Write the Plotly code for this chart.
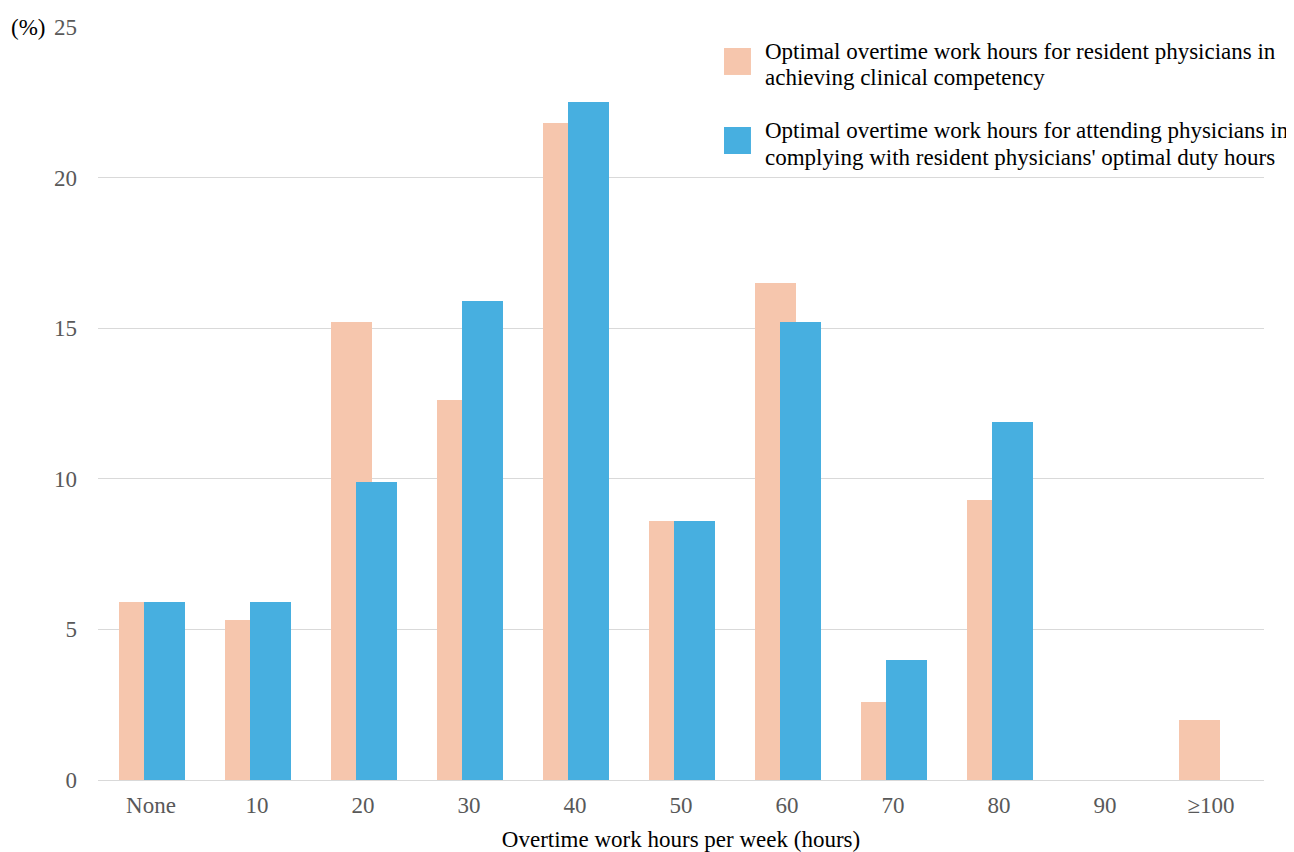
import plotly.graph_objects as go

categories = ["None", "10", "20", "30", "40", "50", "60", "70", "80", "90", "≥100"]
resident = [5.9, 5.3, 15.2, 12.6, 21.8, 8.6, 16.5, 2.6, 9.3, 0, 2.0]
attending = [5.9, 5.9, 9.9, 15.9, 22.5, 8.6, 15.2, 4.0, 11.9, 0, 0]
y_ticks = [0, 5, 10, 15, 20, 25]

legend_res = ["Optimal overtime work hours for resident physicians in",
              "achieving clinical competency"]
legend_att = ["Optimal overtime work hours for attending physicians in",
              "complying with resident physicians' optimal duty hours"]

PEACH = "#F6C6AD"
BLUE = "#47AFE0"
FONT = "Liberation Serif, Times New Roman, serif"
FS = 23

fig = go.Figure()
fig.add_trace(go.Bar(x=categories, y=resident, name=" ".join(legend_res), marker_color=PEACH,
                     marker_line_width=0, width=0.385, offset=-0.30, showlegend=False))
fig.add_trace(go.Bar(x=categories, y=attending, name=" ".join(legend_att), marker_color=BLUE,
                     marker_line_width=0, width=0.385, offset=-0.068, showlegend=False))

fig.update_layout(
    barmode="overlay",
    width=1286, height=844,
    margin=dict(l=90, r=30, t=19, b=72, autoexpand=False),
    plot_bgcolor="white", paper_bgcolor="white",
    font=dict(family=FONT, size=FS, color="#000000"),
    xaxis=dict(type="category", showgrid=False, showline=True, linecolor="#d9d9d9",
               linewidth=1, ticks="", tickfont=dict(family=FONT, size=FS, color="#595959"),
               ticklabelstandoff=4, automargin=False,
               title=dict(text="Overtime work hours per week (hours)",
                          font=dict(family=FONT, size=FS, color="#000000"), standoff=16)),
    yaxis=dict(range=[0, 25], tickvals=y_ticks, showgrid=True, gridcolor="#d9d9d9",
               gridwidth=1, zeroline=False, showline=False, ticks="", automargin=False,
               tickfont=dict(family=FONT, size=FS, color="#595959"), ticklabelstandoff=20),
    bargap=0,
)
fig.add_annotation(text="(%)", xref="paper", yref="y", x=-0.0437, y=25, xanchor="right",
                   yanchor="middle", showarrow=False,
                   font=dict(family=FONT, size=FS, color="#000000"))

# manual legend (large swatches like the reference)
for color, lines, sq, ty in [(PEACH, legend_res, (0.9721, 0.9363), (0.9670, 0.9330)),
                             (BLUE, legend_att, (0.8672, 0.8313), (0.8620, 0.8265))]:
    fig.add_shape(type="rect", xref="paper", yref="paper", x0=0.5369, x1=0.5600,
                  y0=sq[1], y1=sq[0], fillcolor=color, line_width=0)
    for txt, yy in zip(lines, ty):
        fig.add_annotation(text=txt, xref="paper", yref="paper", x=0.5705, y=yy,
                           xanchor="left", yanchor="middle", showarrow=False,
                           font=dict(family=FONT, size=FS, color="#000000"))

fig.write_html("out.html")
